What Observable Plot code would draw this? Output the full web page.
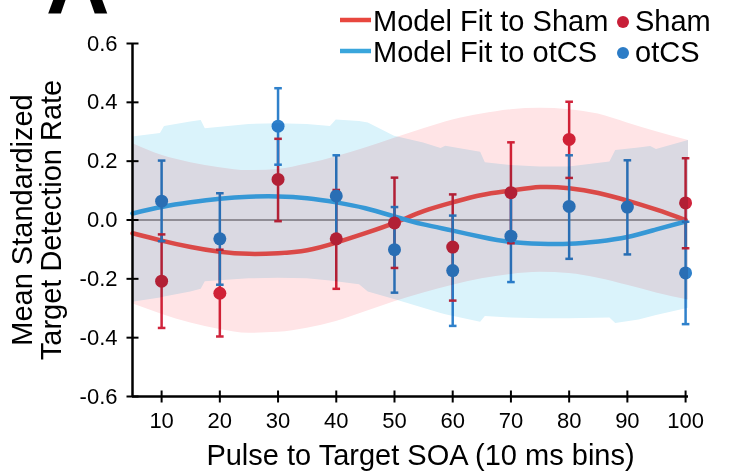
<!DOCTYPE html>
<html>
<head>
<meta charset="utf-8">
<script src="https://cdn.jsdelivr.net/npm/d3@7"></script>
<script src="https://cdn.jsdelivr.net/npm/@observablehq/plot@0.6"></script>
<style>
  html, body { margin: 0; padding: 0; background: #fff; }
  #wrap { position: relative; width: 729px; height: 472px; overflow: hidden; font-family: "Liberation Sans", Arial, sans-serif; }
  #overlay { position: absolute; left: 0; top: 0; pointer-events: none; }
</style>
</head>
<body>
<div id="wrap"></div>
<script>
// ---- data ----
const soa = [10, 20, 30, 40, 50, 60, 70, 80, 90, 100];
const shamMean = [-0.208, -0.249, 0.138, -0.064, -0.010, -0.092, 0.093, 0.274, null, 0.058];
const shamLow  = [-0.367, -0.396, -0.004, -0.234, -0.163, -0.274, -0.079, 0.143, null, -0.096];
const shamHigh = [-0.049, -0.101, 0.276, 0.102, 0.144, 0.087, 0.264, 0.402, null, 0.210];
const otcsMean = [0.064, -0.064, 0.319, 0.082, -0.101, -0.172, -0.055, 0.046, 0.044, -0.180];
const otcsLow  = [-0.072, -0.220, 0.188, -0.056, -0.247, -0.360, -0.211, -0.132, -0.117, -0.354];
const otcsHigh = [0.202, 0.091, 0.448, 0.220, 0.044, 0.015, 0.100, 0.220, 0.203, -0.006];

const fitX    = [5, 10, 15, 20, 25, 30, 35, 40, 45, 50, 55, 60, 65, 70, 75, 80, 85, 90, 95, 100];
const shamFit = [-0.045, -0.070, -0.092, -0.108, -0.115, -0.113, -0.103, -0.077, -0.045, -0.010, 0.030, 0.060, 0.085, 0.100, 0.112, 0.108, 0.092, 0.066, 0.035, 0.000];
const otcsFit = [0.022, 0.044, 0.060, 0.072, 0.079, 0.080, 0.074, 0.060, 0.040, 0.012, -0.015, -0.036, -0.058, -0.075, -0.081, -0.081, -0.073, -0.058, -0.032, -0.005];

const shamBandX    = [5, 10, 15, 20, 25, 30, 35, 40, 45, 50, 55, 60, 65, 70, 75, 80, 85, 90, 95, 100.5];
const shamBandHigh = [0.260, 0.220, 0.195, 0.178, 0.168, 0.172, 0.190, 0.215, 0.245, 0.278, 0.310, 0.340, 0.360, 0.375, 0.380, 0.375, 0.360, 0.330, 0.300, 0.270];
const shamBandLow  = [-0.285, -0.320, -0.350, -0.372, -0.385, -0.382, -0.368, -0.345, -0.312, -0.278, -0.248, -0.222, -0.200, -0.185, -0.178, -0.182, -0.198, -0.222, -0.248, -0.272];

const otcsBandX    = [5, 9.8, 10.5, 15, 16.8, 17.5, 25, 30, 35, 39, 40, 44, 45.5, 50, 55, 58, 58.8, 64.8, 65.6, 70, 75, 80, 87, 88, 92, 94, 95, 100.5];
const otcsBandHigh = [0.282, 0.294, 0.318, 0.333, 0.338, 0.310, 0.325, 0.327, 0.325, 0.318, 0.340, 0.335, 0.330, 0.285, 0.262, 0.243, 0.251, 0.230, 0.195, 0.185, 0.180, 0.180, 0.197, 0.236, 0.245, 0.250, 0.240, 0.270];
const otcsBandLow  = [-0.280, -0.265, -0.262, -0.245, -0.235, -0.210, -0.200, -0.198, -0.200, -0.207, -0.210, -0.220, -0.245, -0.270, -0.300, -0.318, -0.322, -0.348, -0.328, -0.333, -0.336, -0.336, -0.333, -0.352, -0.340, -0.330, -0.325, -0.300];

const xTicks = [10, 20, 30, 40, 50, 60, 70, 80, 90, 100];
const yTicks = [-0.6, -0.4, -0.2, 0.0, 0.2, 0.4, 0.6];
const xDomain = [5, 100.5];
const yDomain = [-0.6, 0.6];

const seriesNames = ["Sham", "otCS"];
const fitNames = ["Model Fit to Sham", "Model Fit to otCS"];
const xTitle = "Pulse to Target SOA (10 ms bins)";
const yTitle = ["Mean Standardized", "Target Detection Rate"];
const panelLetter = "A";

// ---- build tables ----
const sham = soa.map((x, i) => ({x, m: shamMean[i], lo: shamLow[i], hi: shamHigh[i]})).filter(d => d.m != null);
const otcs = soa.map((x, i) => ({x, m: otcsMean[i], lo: otcsLow[i], hi: otcsHigh[i]}));
const fits = fitX.map((x, i) => ({x, s: shamFit[i], o: otcsFit[i]}));
const shamBand = shamBandX.map((x, i) => ({x, lo: shamBandLow[i], hi: shamBandHigh[i]}));
const otcsBand = otcsBandX.map((x, i) => ({x, lo: otcsBandLow[i], hi: otcsBandHigh[i]}));

const RED = "#d0243c", BLUE = "#2f81cb";
const RED_FIT = "#ff5550", BLUE_FIT = "#3fb3f2";
const font = "'Liberation Sans', Arial, Helvetica, sans-serif";

const vTick = {draw(ctx) { ctx.moveTo(0, -6); ctx.lineTo(0, 6); }};
const hTick = {draw(ctx) { ctx.moveTo(-6, 0); ctx.lineTo(6, 0); }};
const cap = {draw(ctx) { ctx.moveTo(-3.8, 0); ctx.lineTo(3.8, 0); }};

const chart = Plot.plot({
  width: 729,
  height: 472,
  marginLeft: 132,
  marginRight: 41,
  marginTop: 43,
  marginBottom: 76,
  style: {fontFamily: font, fontSize: "22px", color: "black", background: "white", overflow: "visible"},
  x: {domain: xDomain, ticks: xTicks, tickSize: 0, tickPadding: 16, tickFormat: d => String(d), label: null},
  y: {domain: yDomain, ticks: yTicks, tickSize: 0, tickPadding: 15, tickFormat: d => d.toFixed(1), label: null},
  marks: [
    Plot.ruleY([0], {x1: xDomain[0], x2: 100, stroke: "#a8a6a8", strokeWidth: 2}),
    Plot.line(fits, {x: "x", y: "s", stroke: RED_FIT, strokeWidth: 4.5, curve: "natural"}),
    Plot.line(fits, {x: "x", y: "o", stroke: BLUE_FIT, strokeWidth: 4.5, curve: "natural"}),
    Plot.ruleX(sham, {x: "x", y1: "lo", y2: "hi", stroke: RED, strokeWidth: 2.5}),
    Plot.ruleX(otcs, {x: "x", y1: "lo", y2: "hi", stroke: BLUE, strokeWidth: 2.5}),
    Plot.dot(otcs, {x: "x", y: "lo", symbol: cap, stroke: BLUE, strokeWidth: 2.5}),
    Plot.dot(otcs, {x: "x", y: "hi", symbol: cap, stroke: BLUE, strokeWidth: 2.5}),
    Plot.dot(sham, {x: "x", y: "lo", symbol: cap, stroke: RED, strokeWidth: 2.5}),
    Plot.dot(sham, {x: "x", y: "hi", symbol: cap, stroke: RED, strokeWidth: 2.5}),
    Plot.dot(otcs, {x: "x", y: "m", r: 6.5, fill: BLUE}),
    Plot.dot(sham, {x: "x", y: "m", r: 6.5, fill: RED}),
    Plot.areaY(shamBand, {x: "x", y1: "lo", y2: "hi", fill: "#ffe4e6", curve: "monotone-x", mixBlendMode: "multiply"}),
    Plot.areaY(otcsBand, {x: "x", y1: "lo", y2: "hi", fill: "#daf3fb", curve: "linear", mixBlendMode: "multiply"}),
    Plot.ruleX([xDomain[0]], {stroke: "black", strokeWidth: 2.5}),
    Plot.ruleY([yDomain[0]], {stroke: "black", strokeWidth: 2.5}),
    Plot.dot(xTicks, {x: d => d, y: () => yDomain[0], symbol: vTick, stroke: "black", strokeWidth: 2}),
    Plot.dot(yTicks, {x: () => xDomain[0], y: d => d, symbol: hTick, stroke: "black", strokeWidth: 2}),
    Plot.text([yTitle[0]], {text: d => d, frameAnchor: "left", rotate: -90, textAnchor: "middle", lineAnchor: "bottom", dx: -101, fontSize: 29, fill: "black"}),
    Plot.text([yTitle[1]], {text: d => d, frameAnchor: "left", rotate: -90, textAnchor: "middle", lineAnchor: "bottom", dx: -72, fontSize: 29, fill: "black"}),
    Plot.text([xTitle], {text: d => d, frameAnchor: "bottom", textAnchor: "middle", lineAnchor: "bottom", dx: 10, dy: 68, fontSize: 29, fill: "black"})
  ]
});

const wrap = document.getElementById("wrap");
wrap.appendChild(chart);

// ---- legend and panel letter (overlay) ----
const ns = "http://www.w3.org/2000/svg";
const ov = document.createElementNS(ns, "svg");
ov.setAttribute("id", "overlay");
ov.setAttribute("width", 729);
ov.setAttribute("height", 80);
ov.setAttribute("font-family", font);
function el(tag, attrs, text) {
  const e = document.createElementNS(ns, tag);
  for (const k in attrs) e.setAttribute(k, attrs[k]);
  if (text != null) e.textContent = text;
  ov.appendChild(e);
  return e;
}
el("text", {x: 46, y: 13, "font-size": 88, "font-weight": "bold", fill: "black"}, panelLetter);
const rows = [
  {fit: fitNames[0], name: seriesNames[0], lc: "#e8473e", dc: "#c81f38", y: 20},
  {fit: fitNames[1], name: seriesNames[1], lc: "#3aa6dc", dc: "#2c7cc6", y: 51}
];
rows.forEach(r => {
  el("line", {x1: 340, x2: 371, y1: r.y, y2: r.y, stroke: r.lc, "stroke-width": 4.5});
  el("text", {x: 373, y: r.y + 11, "font-size": 29, fill: "black"}, r.fit);
  el("circle", {cx: 623, cy: r.y + 2, r: 6, fill: r.dc});
  el("text", {x: 635, y: r.y + 11, "font-size": 29, fill: "black"}, r.name);
});
wrap.appendChild(ov);
</script>
</body>
</html>
